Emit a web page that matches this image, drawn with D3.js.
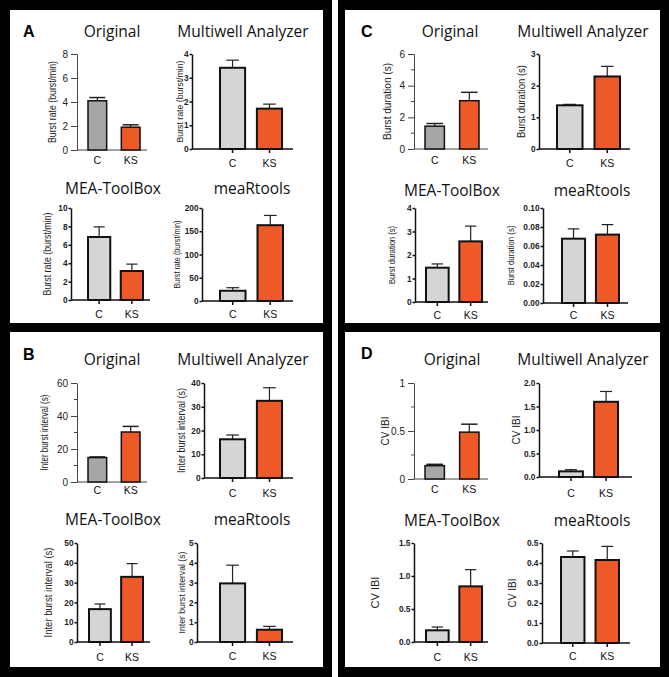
<!DOCTYPE html>
<html><head><meta charset="utf-8">
<script src="https://cdn.jsdelivr.net/npm/d3@7/dist/d3.min.js"></script>
<style>body{margin:0;background:#fff}svg{display:block}</style>
</head><body>
<svg id="fig" width="669" height="677"></svg>
<script>
// ---------- DATA ----------
const groups = ["C", "KS"];
const panelLetters = ["A", "B", "C", "D"];
const toolNames = ["Original", "Multiwell Analyzer", "MEA-ToolBox", "meaRtools"];
const yTitles = ["Burst rate (burst/min)", "Inter burst interval (s)", "Burst duration (s)", "CV IBI"];

// Panel A: burst rate
const burstRateMean = [[4.1, 1.9], [3.42, 1.70], [6.85, 3.15], [22, 163]];
const burstRateErr  = [[0.27, 0.2], [0.32, 0.19], [1.1, 0.75], [6.6, 21]];
const burstRateTicks = [["0","2","4","6","8"], ["0","1","2","3","4"], ["0","2","4","6","8","10"], ["0","50","100","150","200"]];

// Panel B: inter burst interval
const ibiMean = [[14.8, 30.3], [16.3, 32.5], [16.6, 32.9], [2.96, 0.62]];
const ibiErr  = [[0.4, 3.4], [1.8, 5.5], [2.6, 6.7], [0.92, 0.17]];
const ibiTicks = [["0","20","40","60"], ["0","10","20","30","40"], ["0","10","20","30","40","50"], ["0","1","2","3","4","5"]];

// Panel C: burst duration
const burstDurMean = [[1.44, 3.05], [1.38, 2.29], [1.46, 2.58], [0.0677, 0.072]];
const burstDurErr  = [[0.17, 0.53], [0.03, 0.32], [0.16, 0.65], [0.0103, 0.0105]];
const burstDurTicks = [["0","2","4","6"], ["0","1","2","3"], ["0","1","2","3","4"], ["0.00","0.02","0.04","0.06","0.08","0.10"]];

// Panel D: CV IBI
const cvIbiMean = [[0.139, 0.488], [0.12, 1.60], [0.177, 0.843], [0.43, 0.415]];
const cvIbiErr  = [[0.014, 0.083], [0.036, 0.22], [0.05, 0.253], [0.03, 0.068]];
const cvIbiTicks = [["0","0.5","1"], ["0.0","0.5","1.0","1.5","2.0"], ["0.0","0.5","1.0","1.5"], ["0.0","0.1","0.2","0.3","0.4","0.5"]];

const panelMeans = [burstRateMean, ibiMean, burstDurMean, cvIbiMean];
const panelErrs  = [burstRateErr, ibiErr, burstDurErr, cvIbiErr];
const panelTicks = [burstRateTicks, ibiTicks, burstDurTicks, cvIbiTicks];

// ---------- LAYOUT ----------
const panelLabelPos = [[23, 37], [23, 360], [361, 37], [361, 359]];
const layout = [
  // A
  [ {ax:77, yt:54, yb:150, xe:147, b0:88, b1:140, tx:112, ty:37, ylx:53, xl:164, tl:82, fs:10},
    {ax:192, yt:54, yb:149, xe:293, b0:220, b1:282, tx:243, ty:37, ylx:181, xl:167, tl:82, fs:9},
    {ax:71, yt:208, yb:300, xe:150, b0:88, b1:143, tx:113, ty:194, ylx:48, xl:318, tl:83, fs:10},
    {ax:202, yt:208, yb:301, xe:293, b0:220, b1:283, tx:252, ty:194, ylx:178, xl:318, tl:68, fs:9} ],
  // B
  [ {ax:77, yt:383, yb:482, xe:147, b0:88, b1:140, tx:112, ty:365, ylx:45, xl:494, tl:76, fs:10},
    {ax:204, yt:383, yb:478, xe:293, b0:220, b1:282, tx:243, ty:365, ylx:182, xl:497, tl:85, fs:10},
    {ax:77, yt:543, yb:642, xe:150, b0:89, b1:143, tx:113, ty:525, ylx:49, xl:661, tl:90, fs:11},
    {ax:197, yt:543, yb:642, xe:293, b0:220, b1:282, tx:252, ty:525, ylx:183, xl:660, tl:82, fs:9} ],
  // C
  [ {ax:414, yt:54, yb:149, xe:488, b0:425, b1:479, tx:450, ty:37, ylx:388, xl:164, tl:77, fs:10},
    {ax:539, yt:54, yb:149, xe:630, b0:557, b1:620, tx:583, ty:37, ylx:522, xl:167, tl:73, fs:10},
    {ax:415, yt:208, yb:302, xe:488, b0:426, b1:482, tx:452, ty:196, ylx:393, xl:319, tl:58, fs:9},
    {ax:543, yt:208, yb:303, xe:628, b0:562, b1:619, tx:592, ty:196, ylx:512, xl:319, tl:60, fs:9} ],
  // D
  [ {ax:414, yt:383, yb:479, xe:488, b0:425, b1:479, tx:452, ty:365, ylx:386, xl:493, tl:0, fs:10},
    {ax:539, yt:383, yb:477, xe:632, b0:559, b1:618, tx:583, ty:365, ylx:517, xl:497, tl:0, fs:10},
    {ax:414, yt:543, yb:642, xe:488, b0:426, b1:482, tx:452, ty:526, ylx:376, xl:661, tl:0, fs:11},
    {ax:542, yt:543, yb:643, xe:630, b0:561, b1:619, tx:592, ty:526, ylx:513, xl:660, tl:0, fs:10} ]
];
const panelBoxes = [[10,10,313,313],[10,332,313,335],[345,10,315,313],[345,332,315,335]];

const ORANGE = "#ee5a27";
const svg = d3.select("#fig");

// frames
svg.append("rect").attr("x",0).attr("y",0).attr("width",332).attr("height",677).attr("fill","#000");
svg.append("rect").attr("x",338).attr("y",0).attr("width",331).attr("height",677).attr("fill","#000");
panelBoxes.forEach(b => svg.append("rect").attr("x",b[0]).attr("y",b[1]).attr("width",b[2]).attr("height",b[3]).attr("fill","#fff"));

panelLetters.forEach((L, p) => {
  svg.append("text").attr("x", panelLabelPos[p][0]).attr("y", panelLabelPos[p][1])
    .attr("font-family", "Liberation Sans, Arial, sans-serif").attr("font-weight", "bold")
    .attr("font-size", 16).attr("fill", "#000").text(L);
  for (let s = 0; s < 4; s++) drawChart(p, s);
});

function drawChart(p, s) {
  const c = layout[p][s];
  const means = panelMeans[p][s], errs = panelErrs[p][s], labels = panelTicks[p][s];
  const vals = labels.map(Number);
  const orig = s === 0;
  const g = svg.append("g");
  const y = d3.scaleLinear().domain([0, d3.max(vals)]).range([c.yb, c.yt]);
  const x = d3.scaleBand().domain(groups).range([c.b0, c.b1]).paddingInner(orig ? 0.44 : 0.32);
  const axColor = orig ? "#444" : "#111";
  const axW = orig ? 1 : 1.5;

  // title
  g.append("text").attr("x", c.tx).attr("y", c.ty).attr("text-anchor", "middle")
    .attr("font-family", "Open Sans, sans-serif").attr("font-size", 15.5).attr("fill", "#111")
    .text(toolNames[s]);

  // y axis
  const yAxis = d3.axisLeft(y).tickValues(vals).tickFormat((d, i) => labels[i])
    .tickSize(orig ? 6 : 2.5).tickSizeOuter(0).tickPadding(orig ? 3 : 1);
  const ya = g.append("g").attr("transform", `translate(${c.ax},0)`).call(yAxis);
  ya.select(".domain").attr("stroke", axColor).attr("stroke-width", axW);
  ya.selectAll(".tick line").attr("stroke", axColor).attr("stroke-width", axW);
  ya.selectAll(".tick text").attr("font-family", "Liberation Sans, Arial, sans-serif")
    .attr("font-size", orig ? 10 : 8.3).attr("font-weight", orig ? "normal" : "bold").attr("fill", "#222");
  if (orig && p > 0) {
    const minors = d3.pairs(vals).map(([a, b]) => (a + b) / 2);
    g.selectAll(null).data(minors).join("line")
      .attr("x1", c.ax - 3).attr("x2", c.ax).attr("y1", d => y(d)).attr("y2", d => y(d))
      .attr("stroke", axColor).attr("stroke-width", 1);
  }

  // x axis line
  g.append("line").attr("x1", c.ax).attr("x2", c.xe).attr("y1", c.yb).attr("y2", c.yb)
    .attr("stroke", axColor).attr("stroke-width", axW);
  if (!orig) {
    g.selectAll(null).data(groups).join("line")
      .attr("x1", d => x(d) + x.bandwidth() / 2).attr("x2", d => x(d) + x.bandwidth() / 2)
      .attr("y1", c.yb).attr("y2", c.yb + 4).attr("stroke", axColor).attr("stroke-width", axW);
  }
  g.selectAll(null).data(groups).join("text")
    .attr("x", d => x(d) + x.bandwidth() / 2).attr("y", c.xl).attr("text-anchor", "middle")
    .attr("font-family", "Liberation Sans, Arial, sans-serif").attr("font-size", 10.5)
    .attr("fill", "#111").text(d => d);

  // error bars
  const capW = orig ? x.bandwidth() * 0.85 : x.bandwidth() * 0.5;
  groups.forEach((gr, i) => {
    const cx = x(gr) + x.bandwidth() / 2;
    g.append("line").attr("x1", cx).attr("x2", cx).attr("y1", y(means[i])).attr("y2", y(means[i] + errs[i]))
      .attr("stroke", "#222").attr("stroke-width", 1.2);
    g.append("line").attr("x1", cx - capW / 2).attr("x2", cx + capW / 2)
      .attr("y1", y(means[i] + errs[i])).attr("y2", y(means[i] + errs[i]))
      .attr("stroke", "#222").attr("stroke-width", orig ? 1.5 : 1.2);
  });

  // bars
  g.selectAll(null).data(groups).join("rect")
    .attr("x", d => x(d)).attr("width", x.bandwidth())
    .attr("y", (d, i) => y(means[i])).attr("height", (d, i) => c.yb - y(means[i]))
    .attr("fill", (d, i) => i === 1 ? ORANGE : (orig ? "#a6a6a6" : "#d5d5d5"))
    .attr("stroke", "#111").attr("stroke-width", orig ? 1.5 : 2);

  // y title
  const t = g.append("text").attr("transform", `translate(${c.ylx},${(c.yt + c.yb) / 2}) rotate(-90)`)
    .attr("text-anchor", "middle").attr("dominant-baseline", "middle")
    .attr("font-family", "Liberation Sans, Arial, sans-serif").attr("font-size", c.fs)
    .attr("fill", "#222").text(yTitles[p]);
  if (c.tl) t.attr("textLength", c.tl).attr("lengthAdjust", "spacingAndGlyphs");
}
</script>
</body></html>
